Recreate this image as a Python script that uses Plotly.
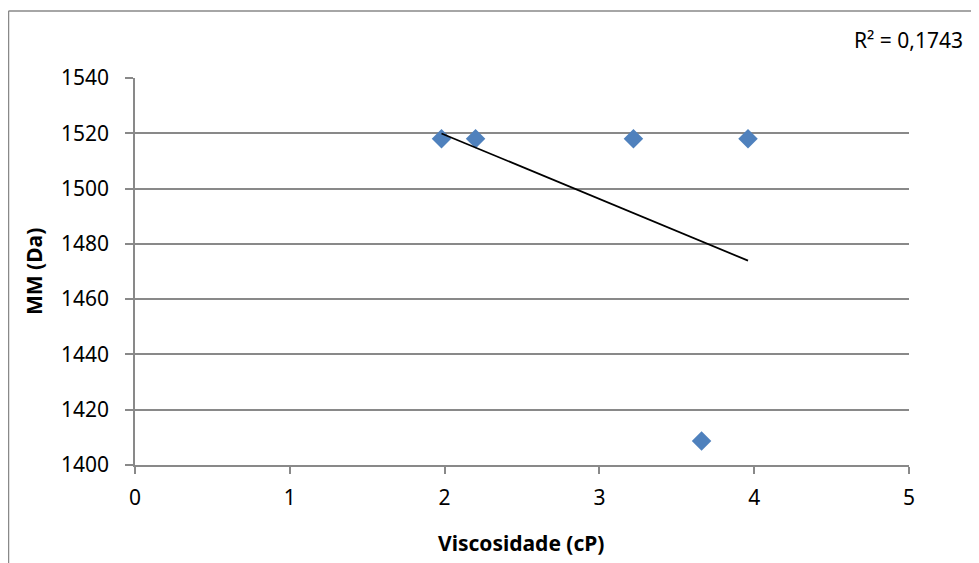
import numpy as np
import plotly.graph_objects as go

viscosidade = [1.98, 2.20, 3.22, 3.96, 3.66]
mm_da = [1518, 1518, 1518, 1518, 1408.7]
x_ticks = [0, 1, 2, 3, 4, 5]
y_ticks = [1400, 1420, 1440, 1460, 1480, 1500, 1520, 1540]

x = np.array(viscosidade)
y = np.array(mm_da)
slope, intercept = np.polyfit(x, y, 1)
r2 = np.corrcoef(x, y)[0, 1] ** 2
xl = np.array([x.min(), x.max()])
yl = slope * xl + intercept

# page has an 8px body margin; positions below are in figure coords
W, H = 979, 563
L, T = 127, 70
pw, ph = 774, 387
R, B = W - L - pw, H - T - ph

def px(fx):
    return (fx - L) / pw

def py(fy):
    return (T + ph - fy) / ph

fig = go.Figure()
fig.add_trace(go.Scatter(x=x, y=y, mode="markers",
                         marker=dict(symbol="diamond", size=15, color="#4F81BD",
                                     line=dict(width=0)),
                         showlegend=False, cliponaxis=False))
fig.add_trace(go.Scatter(x=xl, y=yl, mode="lines",
                         line=dict(color="black", width=1.75),
                         showlegend=False))

font = "Noto Sans, Liberation Sans, sans-serif"
grey = "#898989"
fig.update_layout(
    width=W, height=H,
    margin=dict(l=L, r=R, t=T, b=B),
    paper_bgcolor="white", plot_bgcolor="white",
    font=dict(family=font, size=21, color="black"),
    xaxis=dict(range=[0, 5], tickvals=x_ticks, showgrid=False,
               showline=True, linecolor=grey, linewidth=1.5,
               ticks="outside", ticklen=7, tickcolor=grey, tickwidth=1.5,
               zeroline=False, tickfont=dict(size=21), ticklabelstandoff=6),
    yaxis=dict(range=[1400, 1540], tickvals=y_ticks, showgrid=True,
               gridcolor=grey, gridwidth=1.5,
               showline=True, linecolor=grey, linewidth=1.5,
               ticks="outside", ticklen=8, tickcolor=grey, tickwidth=1.5,
               zeroline=False, tickfont=dict(size=21), ticklabelstandoff=12),
    annotations=[
        dict(text="R² = " + f"{r2:.4f}".replace(".", ","),
             xref="paper", yref="paper", x=px(957), y=py(32),
             xanchor="right", yanchor="middle", showarrow=False,
             font=dict(size=21)),
        dict(text="<b>Viscosidade (cP)</b>",
             xref="paper", yref="paper", x=px(513), y=py(535),
             xanchor="center", yanchor="middle", showarrow=False,
             font=dict(size=21)),
        dict(text="<b>MM (Da)</b>", textangle=-90,
             xref="paper", yref="paper", x=px(26), y=py(264),
             xanchor="center", yanchor="middle", showarrow=False,
             font=dict(size=21)),
    ],
    shapes=[
        dict(type="line", xref="paper", yref="paper",
             x0=px(0.5), x1=px(0.5), y0=py(3), y1=py(600),
             line=dict(color=grey, width=1.5)),
        dict(type="line", xref="paper", yref="paper",
             x0=px(0.5), x1=px(1000), y0=py(3), y1=py(3),
             line=dict(color=grey, width=1.5)),
    ],
)

fig.write_html("out.html")
